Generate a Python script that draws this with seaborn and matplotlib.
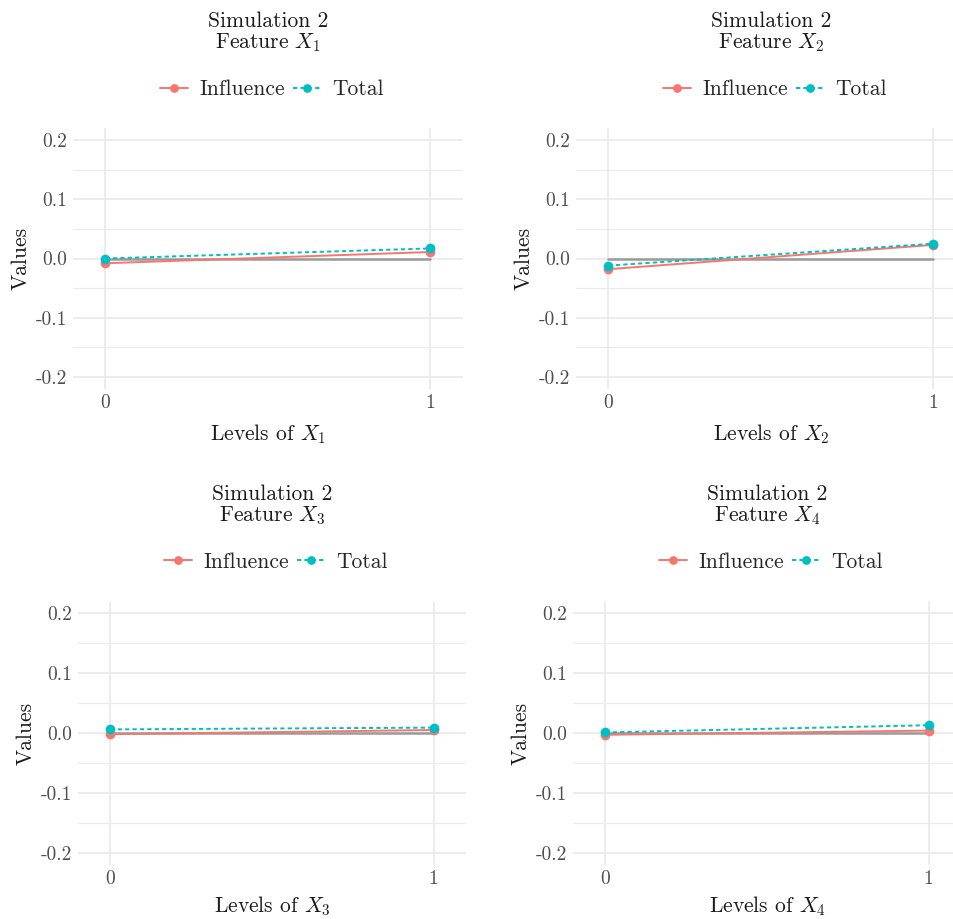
import matplotlib
matplotlib.use("Agg")
import matplotlib.pyplot as plt
import seaborn as sns
import pandas as pd
import numpy as np

sns.set_theme(style="white")
plt.rcParams["font.family"] = ["cmr10", "DejaVu Serif"]
plt.rcParams["mathtext.fontset"] = "cm"
plt.rcParams["axes.unicode_minus"] = False
plt.rcParams["axes.formatter.use_mathtext"] = True

levels = [0, 1]
features = ["X1", "X2", "X3", "X4"]
infl_x1 = [-0.008, 0.011]
total_x1 = [0.000, 0.017]
infl_x2 = [-0.018, 0.023]
total_x2 = [-0.012, 0.025]
infl_x3 = [-0.002, 0.005]
total_x3 = [0.006, 0.009]
infl_x4 = [-0.003, 0.004]
total_x4 = [0.001, 0.013]
series_names = ["Influence", "Total"]
yticks = [-0.2, -0.1, 0.0, 0.1, 0.2]
ytick_labels = ["-0.2", "-0.1", "0.0", "0.1", "0.2"]

infl = [infl_x1, infl_x2, infl_x3, infl_x4]
tot = [total_x1, total_x2, total_x3, total_x4]

W, H = 954, 919
fig = plt.figure(figsize=(W / 100, H / 100), dpi=100)

# pixel boxes: left, right, top, bottom
boxes = [(73, 463, 128, 389), (576, 966, 128, 389),
         (78, 466, 601, 865), (573, 961, 601, 865)]

red = "#F8766D"
teal = "#00BFC4"
grid = "#EBEBEB"

for i, (l, r, t, b) in enumerate(boxes):
    ax = fig.add_axes([l / W, 1 - b / H, (r - l) / W, (b - t) / H])
    df = pd.DataFrame({
        "level": levels * 2,
        "value": infl[i] + tot[i],
        "type": [series_names[0]] * 2 + [series_names[1]] * 2,
    })
    ax.plot(levels, [0, 0], color="#9A9A9A", lw=1.8, zorder=1.5)
    sns.lineplot(data=df, x="level", y="value", hue="type", style="type",
                 palette={"Influence": red, "Total": teal},
                 dashes={"Influence": "", "Total": (2.2, 1.6)},
                 markers={"Influence": "o", "Total": "o"},
                 markersize=7, markeredgewidth=0, lw=1.4, ax=ax, zorder=3)
    ax.set_xlim(-0.1, 1.1)
    ax.set_ylim(-0.22, 0.22)
    ax.set_xticks([0, 1])
    ax.set_xticklabels(["0", "1"])
    ax.set_yticks(yticks)
    ax.set_yticklabels(ytick_labels)
    ax.set_yticks([-0.15, -0.05, 0.05, 0.15], minor=True)
    ax.grid(True, which="major", color=grid, lw=1.3)
    ax.grid(True, which="minor", axis="y", color=grid, lw=0.8)
    ax.set_axisbelow(True)
    for s in ax.spines.values():
        s.set_visible(False)
    ax.tick_params(axis="both", which="both", length=0, labelsize=14,
                   labelcolor="#4D4D4D", pad=4)
    n = i + 1
    ax.set_xlabel(f"Levels of $X_{n}$", fontsize=15.5, color="#1A1A1A",
                  labelpad=7 if i < 2 else 4)
    ax.set_ylabel("Values", fontsize=15.5, color="#1A1A1A", labelpad=4)
    ax.set_title(f"Simulation 2\nFeature $X_{n}$", fontsize=15.5,
                 color="#1A1A1A", pad=57, linespacing=1.02)
    handles, labels = ax.get_legend_handles_labels()
    ax.legend(handles=handles, labels=labels, loc="center",
              bbox_to_anchor=(0.51, 1.147), ncol=2, frameon=False,
              fontsize=15.5, handlelength=1.3, handletextpad=0.5,
              columnspacing=0.4, borderaxespad=0, markerscale=0.9)

fig.savefig("out.png", dpi=100, facecolor="white")
